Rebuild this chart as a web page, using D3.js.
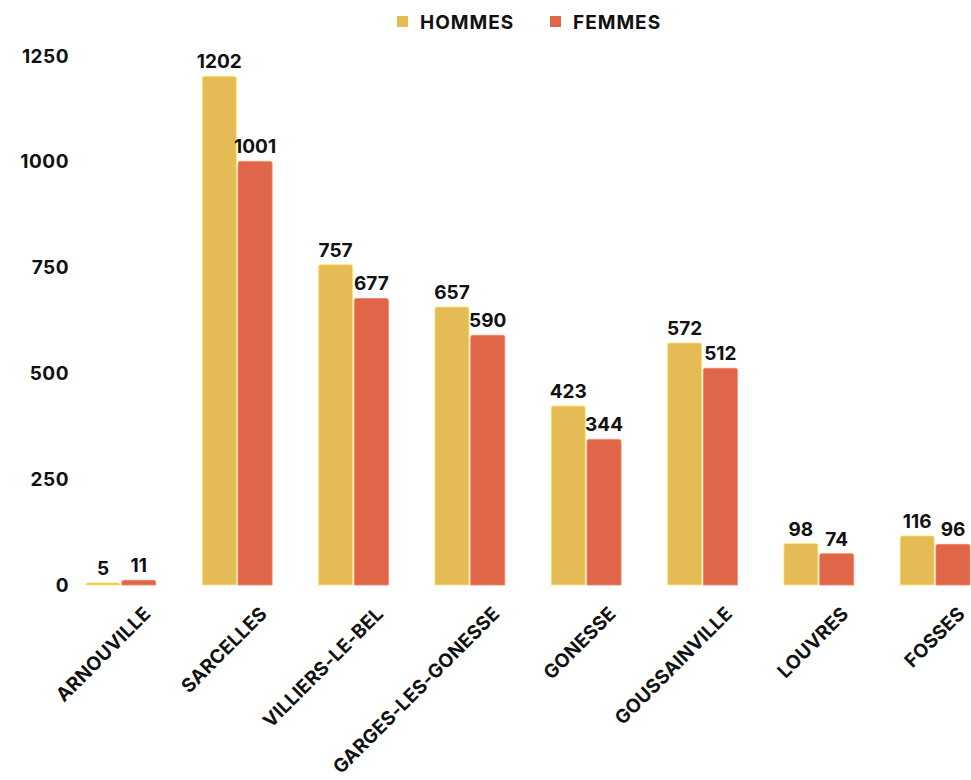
<!DOCTYPE html>
<html lang="fr">
<head>
<meta charset="UTF-8">
<title>Hommes / Femmes par commune</title>
<script src="https://d3js.org/d3.v7.min.js"></script>
<style>
  body { margin: 0; background: #fff; }
  text { font-family: Inter, "Open Sans", sans-serif; font-weight: 700; fill: #111; }
</style>
</head>
<body>
<svg id="chart" width="971" height="780"></svg>
<script>
// data
var communes = ["ARNOUVILLE", "SARCELLES", "VILLIERS-LE-BEL", "GARGES-LES-GONESSE",
                "GONESSE", "GOUSSAINVILLE", "LOUVRES", "FOSSES"];
var hommes = [5, 1202, 757, 657, 423, 572, 98, 116];
var femmes = [11, 1001, 677, 590, 344, 512, 74, 96];
var series = ["HOMMES", "FEMMES"];
var yTicks = [0, 250, 500, 750, 1000, 1250];
var colors = ["#e4bb55", "#e0664a"];

var svg = d3.select("#chart");

var x = d3.scaleBand().domain(communes).range([86, 970]).paddingInner(0.4).paddingOuter(0);
var x1 = d3.scaleBand().domain(series).range([0, x.bandwidth()]).paddingInner(0.05);
var y = d3.scaleLinear().domain([0, 1250]).range([585, 56]);

// y axis labels
var yAxis = d3.axisLeft(y).tickValues(yTicks).tickFormat(d3.format("d")).tickSize(0).tickPadding(0);
var gy = svg.append("g").attr("transform", "translate(69,0)").call(yAxis);
gy.select(".domain").remove();
gy.selectAll("text").attr("font-size", 19).attr("letter-spacing", 0.5)
    .style("font-family", null).attr("fill", "#111");

// bars
var rows = communes.map(function (c, i) {
    return { c: c, vals: [hommes[i], femmes[i]] };
});

function topRounded(x0, y0, w, h, r) {
    r = Math.min(r, h, w / 2);
    return "M" + x0 + "," + (y0 + h) +
        "V" + (y0 + r) +
        "Q" + x0 + "," + y0 + " " + (x0 + r) + "," + y0 +
        "H" + (x0 + w - r) +
        "Q" + (x0 + w) + "," + y0 + " " + (x0 + w) + "," + (y0 + r) +
        "V" + (y0 + h) + "Z";
}

var groups = svg.append("g").selectAll("g").data(rows).enter().append("g")
    .attr("transform", function (d) { return "translate(" + x(d.c) + ",0)"; });

groups.selectAll("path").data(function (d) { return d.vals; }).enter().append("path")
    .attr("d", function (v, j) {
        var h = y(0) - y(v);
        return topRounded(x1(series[j]), y(v), x1.bandwidth(), h, 2);
    })
    .attr("fill", function (v, j) { return colors[j]; })
    .attr("stroke", function (v, j) { return d3.color(colors[j]).brighter(0.6); })
    .attr("stroke-width", 0.8);

groups.selectAll("text.val").data(function (d) { return d.vals; }).enter().append("text")
    .attr("class", "val")
    .attr("x", function (v, j) { return x1(series[j]) + x1.bandwidth() / 2; })
    .attr("y", function (v) { return y(v) - 8; })
    .attr("text-anchor", "middle")
    .attr("font-size", 19)
    .text(function (v) { return v; });

// x axis labels
svg.append("g").selectAll("text").data(communes).enter().append("text")
    .attr("transform", function (d) {
        return "translate(" + (x(d) + x.bandwidth() / 2 + 31) + ",615) rotate(-45)";
    })
    .attr("text-anchor", "end")
    .attr("font-size", 19)
    .attr("letter-spacing", 0.2)
    .text(function (d) { return d; });

// legend
var legX = [397, 550];
var leg = svg.append("g").selectAll("g").data(series).enter().append("g")
    .attr("transform", function (d, i) { return "translate(" + legX[i] + ",16)"; });
leg.append("rect").attr("width", 11).attr("height", 11)
    .attr("fill", function (d, i) { return colors[i]; });
leg.append("text").attr("x", 23).attr("y", 13).attr("font-size", 19)
    .attr("letter-spacing", 1)
    .text(function (d) { return d; });
</script>
</body>
</html>
